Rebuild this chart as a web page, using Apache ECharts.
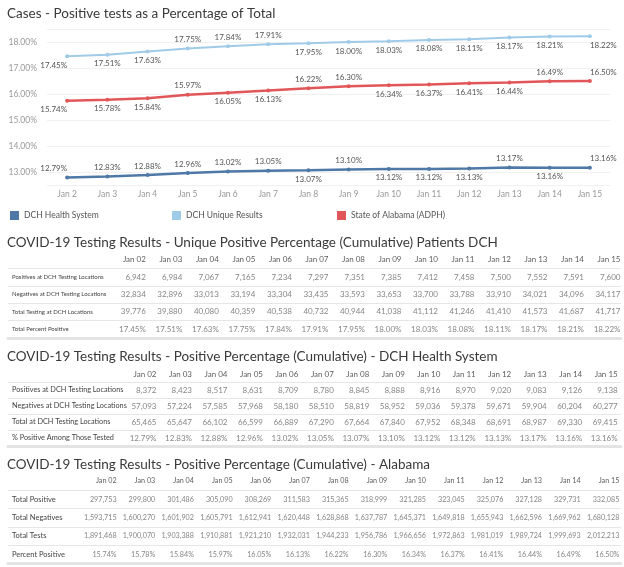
<!DOCTYPE html>
<html><head><meta charset="utf-8">
<script src="https://cdn.jsdelivr.net/npm/echarts@6/dist/echarts.min.js"></script>
<style>html,body{margin:0;padding:0;background:#fff}#c{width:624px;height:567px}</style>
</head><body><div id="c"></div>
<script>
// ---------- line chart data ----------
const days = ['Jan 2','Jan 3','Jan 4','Jan 5','Jan 6','Jan 7','Jan 8','Jan 9','Jan 10','Jan 11','Jan 12','Jan 13','Jan 14','Jan 15'];
const dchHealth = [12.79,12.83,12.88,12.96,13.02,13.05,13.07,13.10,13.12,13.12,13.13,13.17,13.16,13.16];
const dchUnique = [17.45,17.51,17.63,17.75,17.84,17.91,17.95,18.00,18.03,18.08,18.11,18.17,18.21,18.22];
const alabama   = [15.74,15.78,15.84,15.97,16.05,16.13,16.22,16.30,16.34,16.37,16.41,16.44,16.49,16.50];
// label side per point: t = above, b = below
const healthSide  = ['t','t','t','t','t','t','b','t','b','b','b','t','b','t'];
const uniqueSide  = ['b','b','b','t','t','t','b','b','b','b','b','b','b','b'];
const alabamaSide = ['b','b','b','t','b','b','t','t','b','b','b','b','t','t'];

// ---------- table data ----------
const tableDates = ['Jan 02','Jan 03','Jan 04','Jan 05','Jan 06','Jan 07','Jan 08','Jan 09','Jan 10','Jan 11','Jan 12','Jan 13','Jan 14','Jan 15'];

const t1Title = 'COVID-19 Testing Results - Unique Positive Percentage (Cumulative) Patients DCH';
const t1Rows = ['Positives at DCH Testing Locations','Negatives at DCH Testing Locations','Total Testing at DCH Locations','Total Percent Positive'];
const t1Positives = [6942,6984,7067,7165,7234,7297,7351,7385,7412,7458,7500,7552,7591,7600];
const t1Negatives = [32834,32896,33013,33194,33304,33435,33593,33653,33700,33788,33910,34021,34096,34117];
const t1Total     = [39776,39880,40080,40359,40538,40732,40944,41038,41112,41246,41410,41573,41687,41717];
const t1Percent   = [17.45,17.51,17.63,17.75,17.84,17.91,17.95,18.00,18.03,18.08,18.11,18.17,18.21,18.22];

const t2Title = 'COVID-19 Testing Results - Positive Percentage (Cumulative) - DCH Health System';
const t2Rows = ['Positives at DCH Testing Locations','Negatives at DCH Testing Locations','Total at DCH Testing Locations','% Positive Among Those Tested'];
const t2Positives = [8372,8423,8517,8631,8709,8780,8845,8888,8916,8970,9020,9083,9126,9138];
const t2Negatives = [57093,57224,57585,57968,58180,58510,58819,58952,59036,59378,59671,59904,60204,60277];
const t2Total     = [65465,65647,66102,66599,66889,67290,67664,67840,67952,68348,68691,68987,69330,69415];
const t2Percent   = [12.79,12.83,12.88,12.96,13.02,13.05,13.07,13.10,13.12,13.12,13.13,13.17,13.16,13.16];

const t3Title = 'COVID-19 Testing Results - Positive Percentage (Cumulative) - Alabama';
const t3Rows = ['Total Positive','Total Negatives','Total Tests','Percent Positive'];
const t3Positives = [297753,299800,301486,305090,308269,311583,315365,318999,321285,323045,325076,327128,329731,332085];
const t3Negatives = [1593715,1600270,1601902,1605791,1612941,1620448,1628868,1637787,1645371,1649818,1655943,1662596,1669962,1680128];
const t3Total     = [1891468,1900070,1903388,1910881,1921210,1932031,1944233,1956786,1966656,1972863,1981019,1989724,1999693,2012213];
const t3Percent   = [15.74,15.78,15.84,15.97,16.05,16.13,16.22,16.30,16.34,16.37,16.41,16.44,16.49,16.50];

// ---------- build ----------
const FONT = 'Lato';
const fmtInt = v => v.toLocaleString('en-US');
const fmtPct = v => v.toFixed(2) + '%';

function pointLabel(side, i, n) {
  const o = { show: true, position: side === 't' ? 'top' : 'bottom', distance: 3,
    fontSize: 8, color: '#555', fontFamily: FONT, formatter: p => fmtPct(p.value) };
  if (i === 0) o.align = 'right';
  if (i === n - 1) o.align = 'left';
  return o;
}
function lineSeries(name, vals, sides, color, width) {
  return {
    type: 'line', name, xAxisIndex: 0, yAxisIndex: 0, data: vals.map((v, i) => ({ value: v, label: pointLabel(sides[i], i, vals.length) })),
    symbol: 'circle', symbolSize: 4, showSymbol: true,
    lineStyle: { color, width }, itemStyle: { color },
    emphasis: { disabled: true }
  };
}

const grids = [{ left: 47, right: 14, top: 29, height: 156 }];
const xAxes = [{
  gridIndex: 0, type: 'category', data: days, boundaryGap: true,
  axisLine: { show: false }, axisTick: { show: false },
  axisLabel: { color: '#999', fontSize: 8.5, fontFamily: FONT, margin: 5 }
}];
const yAxes = [{
  gridIndex: 0, type: 'value', min: 12.5, max: 18.5, splitNumber: 6,
  axisLine: { show: false }, axisTick: { show: false },
  axisLabel: { color: '#999', fontSize: 8.5, fontFamily: FONT, margin: 10, showMinLabel: false, showMaxLabel: false,
    formatter: v => (Math.abs(v - Math.round(v)) < 1e-6 ? v.toFixed(2) + '%' : '') },
  splitLine: { show: true, lineStyle: { color: '#f0f0f0', width: 1 } }
}];
const series = [
  lineSeries('DCH Health System', dchHealth, healthSide, '#4e79a7', 2.5),
  lineSeries('DCH Unique Results', dchUnique, uniqueSide, '#a0cbe8', 2),
  lineSeries('State of Alabama (ADPH)', alabama, alabamaSide, '#e15759', 2.5)
];

const titles = [{ text: 'Cases - Positive tests as a Percentage of Total', left: 7, top: 7 }];

function addTable(title, titleTop, rows, rowVals, rowFmts, gridTop, rowH, xMin, xMax, labelSize, valSize) {
  const gi = grids.length;
  titles.push({ text: title, left: 7, top: titleTop });
  grids.push({ left: 8, right: 3, top: gridTop, height: rowH * (rows.length + 1) });
  const cats = [' '].concat(rows);
  xAxes.push({ gridIndex: gi, type: 'value', min: xMin, max: xMax,
    axisLine: { show: true, lineStyle: { color: '#e4e4e4', width: 3 } }, axisTick: { show: false },
    axisLabel: { show: false }, splitLine: { show: false } });
  yAxes.push({ gridIndex: gi, type: 'category', data: cats, inverse: true, boundaryGap: true,
    axisLine: { show: false }, axisTick: { show: false },
    axisLabel: { inside: true, margin: 4, color: '#444', fontSize: labelSize, fontFamily: FONT },
    splitLine: { show: true, interval: (idx) => idx !== 0, lineStyle: { color: '#e6e6e6', width: 1 } } });
  const hdr = tableDates.map((d, i) => [i, ' ', d]);
  series.push({ type: 'scatter', xAxisIndex: gi, yAxisIndex: gi, data: hdr, symbolSize: 1,
    itemStyle: { color: 'rgba(0,0,0,0)' }, silent: true,
    label: { show: true, position: 'left', distance: 0, fontSize: valSize, color: '#333', fontFamily: FONT, formatter: p => p.data[2] } });
  const cells = [];
  rows.forEach((r, ri) => rowVals[ri].forEach((v, i) => cells.push([i, r, rowFmts[ri](v)])));
  series.push({ type: 'scatter', xAxisIndex: gi, yAxisIndex: gi, data: cells, symbolSize: 1,
    itemStyle: { color: 'rgba(0,0,0,0)' }, silent: true,
    label: { show: true, position: 'left', distance: 0, fontSize: valSize, color: '#666', fontFamily: FONT, formatter: p => p.data[2] } });
}

addTable(t1Title, 236, t1Rows, [t1Positives, t1Negatives, t1Total, t1Percent], [fmtInt, fmtInt, fmtInt, fmtPct], 251, 17.4, -3.79, 13, 6, 8);
addTable(t2Title, 350, t2Rows, [t2Positives, t2Negatives, t2Total, t2Percent], [fmtInt, fmtInt, fmtInt, fmtPct], 366, 16, -4.2, 13.08, 7.3, 8);
addTable(t3Title, 458, t3Rows, [t3Positives, t3Negatives, t3Total, t3Percent], [fmtInt, fmtInt, fmtInt, fmtPct], 472, 18.3, -2.82, 13.03, 7.5, 7.2);

titles.forEach(t => { t.padding = 0; t.textStyle = { fontSize: 13.5, fontWeight: 'normal', color: '#3a3a3a', fontFamily: FONT }; });

const legendBase = { top: 211, orient: 'horizontal', icon: 'rect', itemWidth: 9, itemHeight: 9, itemGap: 5, padding: 0,
  selectedMode: false, textStyle: { color: '#555', fontSize: 8.5, fontFamily: FONT } };
const legends = [
  Object.assign({}, legendBase, { left: 10, data: ['DCH Health System'] }),
  Object.assign({}, legendBase, { left: 172, data: ['DCH Unique Results'] }),
  Object.assign({}, legendBase, { left: 337, data: ['State of Alabama (ADPH)'] })
];

const chart = echarts.init(document.getElementById('c'), null, { renderer: 'canvas' });
chart.setOption({
  animation: false, backgroundColor: '#fff',
  textStyle: { fontFamily: FONT },
  title: titles, legend: legends, grid: grids, xAxis: xAxes, yAxis: yAxes, series
});
</script></body></html>
